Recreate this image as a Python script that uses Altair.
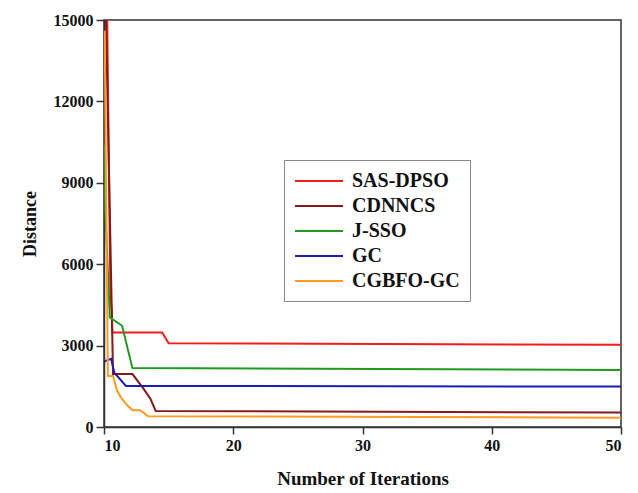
import altair as alt
import pandas as pd

series_names = ["SAS-DPSO", "CDNNCS", "J-SSO", "GC", "CGBFO-GC"]
colors = ["#f21c1c", "#861a1a", "#1f9a1f", "#1c1cb4", "#ff9a22"]

sas_x = [10.25, 10.5, 10.6, 10.65, 14.5, 15.0, 50]
sas_y = [15000, 4700, 4300, 3480, 3480, 3090, 3030]

cdn_x = [10.15, 10.7, 12.2, 13.0, 13.6, 14.0, 50]
cdn_y = [15000, 1950, 1950, 1450, 1030, 590, 530]

jsso_x = [10.0, 10.1, 10.45, 11.4, 12.2, 50]
jsso_y = [10400, 8000, 4040, 3730, 2170, 2100]

gc_x = [10.0, 10.55, 10.8, 11.7, 50]
gc_y = [2410, 2510, 2000, 1515, 1490]

cg_x = [10.05, 10.3, 10.7, 11.0, 11.3, 11.8, 12.2, 12.8, 13.4, 50]
cg_y = [14600, 1880, 1880, 1350, 1100, 800, 620, 620, 400, 345]

rows = []
for name, xs, ys in [
    ("SAS-DPSO", sas_x, sas_y),
    ("CDNNCS", cdn_x, cdn_y),
    ("J-SSO", jsso_x, jsso_y),
    ("GC", gc_x, gc_y),
    ("CGBFO-GC", cg_x, cg_y),
]:
    for i, (a, b) in enumerate(zip(xs, ys)):
        rows.append({"series": name, "iter": a, "dist": b, "order": i})
df = pd.DataFrame(rows)

font = "Liberation Serif"

chart = (
    alt.Chart(df)
    .mark_line(strokeWidth=2, clip=True)
    .encode(
        x=alt.X(
            "iter:Q",
            scale=alt.Scale(domain=[10, 50], nice=False, zero=False),
            axis=alt.Axis(
                title="Number of Iterations",
                values=[10, 20, 30, 40, 50],
                format="d",
                grid=False,
                domainColor="#333",
                tickColor="#333",
                tickWidth=1.5,
                domainWidth=1.5,
                tickSize=7,
                labelFont=font,
                labelFontWeight="bold",
                labelFontSize=16,
                labelColor="#111",
                labelPadding=3,
                titleFont=font,
                titleFontWeight="bold",
                titleFontSize=19,
                titleColor="#111",
                titlePadding=16,
            ),
        ),
        y=alt.Y(
            "dist:Q",
            scale=alt.Scale(domain=[0, 15000], nice=False),
            axis=alt.Axis(
                title="Distance",
                values=[0, 3000, 6000, 9000, 12000, 15000],
                format="d",
                grid=False,
                domainColor="#333",
                tickColor="#333",
                tickWidth=1.5,
                domainWidth=1.5,
                tickSize=8,
                labelFont=font,
                labelFontWeight="bold",
                labelFontSize=16,
                labelColor="#111",
                labelPadding=3,
                titleFont=font,
                titleFontWeight="bold",
                titleFontSize=18,
                titleColor="#111",
                titlePadding=14,
            ),
        ),
        color=alt.Color(
            "series:N",
            scale=alt.Scale(domain=series_names, range=colors),
            legend=alt.Legend(
                title=None,
                orient="none",
                legendX=180,
                legendY=140,
                symbolType="M-2.4,0H2.4",
                symbolSize=400,
                symbolStrokeWidth=2,
                symbolOffset=14,
                labelFont=font,
                labelFontWeight="bold",
                labelFontSize=20,
                labelColor="#111",
                labelLimit=300,
                strokeColor="#888",
                padding=10,
                rowPadding=4,
                labelOffset=22,
            ),
        ),
        order="order:Q",
    )
    .properties(
        width=517,
        height=407,
        padding={"left": 96, "top": 12, "right": 9, "bottom": 64},
        autosize=alt.AutoSizeParams(type="none"),
    )
    .configure_view(stroke="#333", strokeWidth=1.5)
)

chart.save("out.html", embed_options={"renderer": "svg", "actions": False})
